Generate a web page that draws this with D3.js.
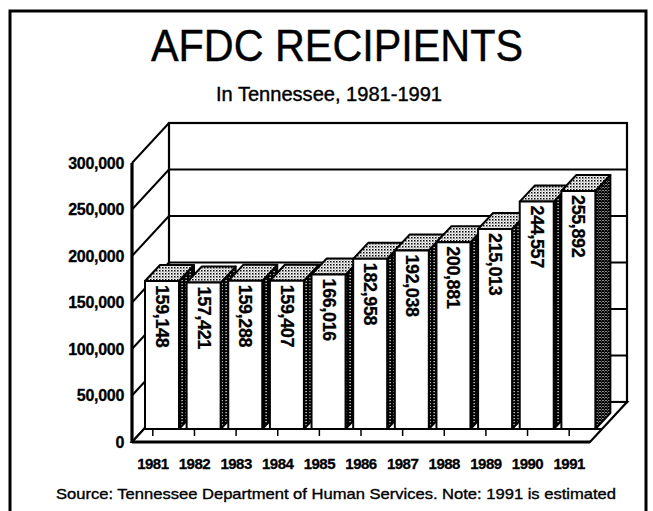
<!DOCTYPE html>
<html>
<head>
<meta charset="utf-8">
<script src="https://cdn.jsdelivr.net/npm/d3@7/dist/d3.min.js"></script>
<style>
  html, body { margin: 0; padding: 0; background: #fff; }
  svg { display: block; }
  text { font-family: "Liberation Sans", Arial, Helvetica, sans-serif; fill: #000; }
</style>
</head>
<body>
<svg id="chart" width="653" height="511"></svg>
<script>
// ---- data ----
const years = ["1981","1982","1983","1984","1985","1986","1987","1988","1989","1990","1991"];
const recipients = [159148,157421,159288,159407,166016,182958,192038,200881,215013,244557,255892];
const yTickValues = [0,50000,100000,150000,200000,250000,300000];
const titleText = "AFDC RECIPIENTS";
const subtitleText = "In Tennessee, 1981-1991";
const sourceText = "Source: Tennessee Department of Human Services. Note: 1991 is estimated";

// ---- layout ----
const svg = d3.select("#chart");
const frontLeft = 132, frontRight = 590;
const floorY = 442, topY = 163;
const DX = 37, DY = -40;          // wall depth
const BOX = 13, BOY = -13;        // bar front-plane offset from floor front
const BDX = 15, BDY = -16;        // bar depth

const x = d3.scaleBand().domain(years).range([frontLeft, frontRight]).paddingInner(0);
const y = d3.scaleLinear().domain([0, 300000]).range([floorY, topY]);
const barW = 34;

// patterns
const defs = svg.append("defs");
const pTop = defs.append("pattern").attr("id","pTop").attr("width",3).attr("height",3).attr("patternUnits","userSpaceOnUse");
pTop.append("rect").attr("width",3).attr("height",3).attr("fill","#fff");
pTop.append("rect").attr("width",1.5).attr("height",1.5).attr("fill","#000");
pTop.append("rect").attr("x",1.5).attr("y",1.5).attr("width",1).attr("height",1).attr("fill","#555");

const pSide = defs.append("pattern").attr("id","pSide").attr("width",4).attr("height",3).attr("patternUnits","userSpaceOnUse");
pSide.append("rect").attr("width",4).attr("height",3).attr("fill","#000");
pSide.append("rect").attr("x",1.5).attr("y",1).attr("width",1.2).attr("height",1.2).attr("fill","#fff");

const pHatch = defs.append("pattern").attr("id","pHatch").attr("width",3).attr("height",3).attr("patternUnits","userSpaceOnUse");
pHatch.append("rect").attr("width",3).attr("height",3).attr("fill","#fff");
pHatch.append("path").attr("d","M0,0L3,3M3,0L0,3").attr("stroke","#000").attr("stroke-width",1.3);

// outer frame
svg.append("rect").attr("x",10).attr("y",11).attr("width",636).attr("height",540)
  .attr("fill","none").attr("stroke","#000").attr("stroke-width",3);

// titles
svg.append("text").attr("x",337).attr("y",61).attr("text-anchor","middle")
  .attr("font-size",44).attr("textLength",372).attr("lengthAdjust","spacingAndGlyphs")
  .attr("stroke","#000").attr("stroke-width",0.4).text(titleText);
svg.append("text").attr("x",329).attr("y",101).attr("text-anchor","middle")
  .attr("font-size",20).attr("textLength",226).attr("lengthAdjust","spacingAndGlyphs")
  .attr("stroke","#000").attr("stroke-width",0.4).text(subtitleText);

// back wall
const g = svg.append("g").attr("stroke","#000").attr("fill","none");
g.append("rect").attr("x",frontLeft+DX).attr("y",topY+DY).attr("width",frontRight-frontLeft).attr("height",floorY-topY)
  .attr("stroke-width",2.2).attr("fill","#fff");
g.selectAll("line.grid").data(yTickValues.filter(v=>v>0 && v<300000)).join("line")
  .attr("x1",frontLeft+DX).attr("x2",frontRight+DX)
  .attr("y1",d=>y(d)+DY).attr("y2",d=>y(d)+DY).attr("stroke-width",1.8);
g.selectAll("line.diag").data(yTickValues).join("line")
  .attr("x1",frontLeft).attr("y1",d=>y(d)).attr("x2",frontLeft+DX).attr("y2",d=>y(d)+DY)
  .attr("stroke-width",2);
// floor
g.append("path").attr("d",`M${frontLeft},${floorY}L${frontRight},${floorY}L${frontRight+DX},${floorY+DY}L${frontLeft+DX},${floorY+DY}Z`)
  .attr("fill","#fff").attr("stroke-width",2.2);
g.append("line").attr("x1",frontLeft).attr("x2",frontLeft).attr("y1",topY).attr("y2",floorY).attr("stroke-width",3.2);
g.append("line").attr("x1",frontLeft).attr("x2",frontRight).attr("y1",floorY).attr("y2",floorY).attr("stroke-width",3);

// bar base line + category ticks
const baseY = floorY + BOY;
const shift = (-BOY)*DX/(-DY);
g.append("line").attr("x1",frontLeft + shift).attr("x2",frontRight + shift)
  .attr("y1",baseY).attr("y2",baseY).attr("stroke-width",2);
g.selectAll("line.tick").data(years).join("line")
  .attr("x1",d=>x(d)+x.bandwidth()/2).attr("x2",d=>x(d)+x.bandwidth()/2)
  .attr("y1",baseY).attr("y2",baseY+7).attr("stroke-width",1.5);

// bars
const bars = svg.append("g");
years.forEach((yr, i) => {
  const v = recipients[i];
  const xl = x(yr) + BOX, xr = xl + barW;
  const yb = y(0) + BOY, yt = y(v) + BOY;
  const bg = bars.append("g").attr("stroke","#000").attr("stroke-width",2).attr("stroke-linejoin","round");
  bg.append("path").attr("d",`M${xr},${yt}L${xr+BDX},${yt+BDY}L${xr+BDX},${yb+BDY}L${xr},${yb}Z`)
    .attr("fill", i === years.length-1 ? "url(#pHatch)" : "url(#pSide)");
  bg.append("path").attr("d",`M${xl},${yt}L${xl+BDX},${yt+BDY}L${xr+BDX},${yt+BDY}L${xr},${yt}Z`)
    .attr("fill","url(#pTop)");
  bg.append("rect").attr("x",xl).attr("y",yt).attr("width",barW).attr("height",yb-yt).attr("fill","#fff");
  bars.append("text")
    .attr("transform",`translate(${(xl+xr)/2},${yt+4}) rotate(90)`)
    .attr("dominant-baseline","central").attr("text-anchor","start")
    .attr("font-size",18).attr("font-weight","bold").attr("letter-spacing",-0.4)
    .attr("stroke","#000").attr("stroke-width",0.3)
    .text(d3.format(",")(v));
});

// y-axis labels
svg.append("g").selectAll("text").data(yTickValues).join("text")
  .attr("x",124).attr("y",d=>y(d)).attr("text-anchor","end").attr("dominant-baseline","central")
  .attr("font-size",16).attr("font-weight","bold").attr("letter-spacing",-0.3)
  .attr("stroke","#000").attr("stroke-width",0.3)
  .text(d=>d3.format(",")(d));

// x-axis labels
svg.append("g").selectAll("text").data(years).join("text")
  .attr("x",d=>x(d)+x.bandwidth()/2).attr("y",469).attr("text-anchor","middle")
  .attr("font-size",15).attr("font-weight","bold").attr("letter-spacing",-0.5)
  .attr("stroke","#000").attr("stroke-width",0.3)
  .text(d=>d);

// source
svg.append("text").attr("x",336).attr("y",499).attr("text-anchor","middle")
  .attr("font-size",14.5).attr("textLength",560).attr("lengthAdjust","spacingAndGlyphs")
  .attr("stroke","#000").attr("stroke-width",0.35).text(sourceText);
</script>
</body>
</html>
